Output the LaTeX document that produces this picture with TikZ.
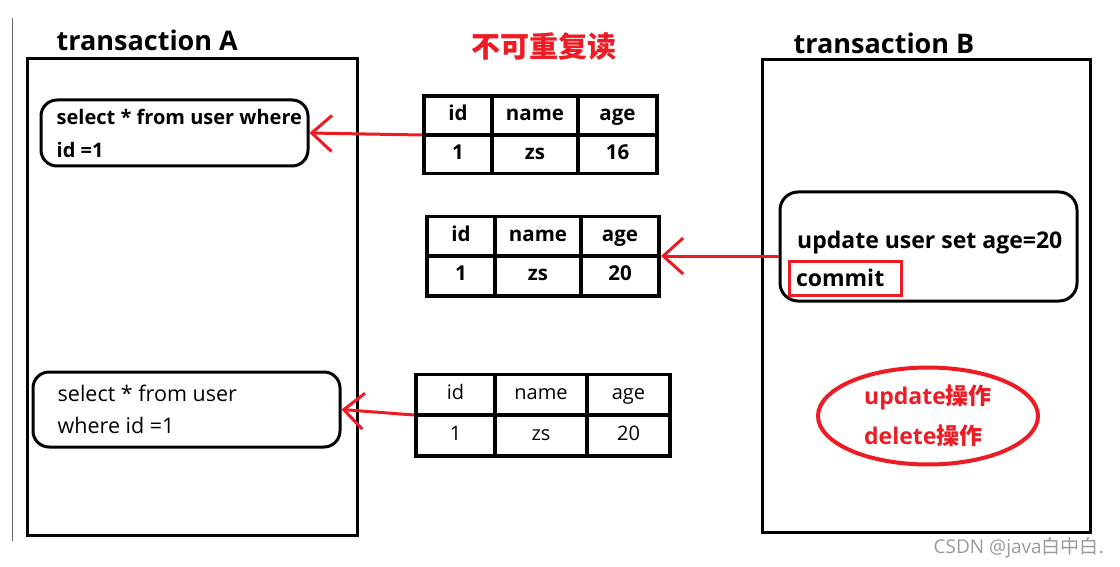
\documentclass[tikz,border=0pt]{standalone}
\usepackage{fontspec}
\setmainfont{Open Sans}
\newfontfamily\cjk{Noto Sans CJK SC}
\usetikzlibrary{arrows.meta, positioning, matrix, shapes.geometric}
\definecolor{markred}{HTML}{ED1C24}
\definecolor{wmgray}{HTML}{9A9A9A}

\begin{document}
\begin{tikzpicture}[x=1pt, y=-1pt,
  txbox/.style={draw, line width=3pt, inner sep=0pt},
  title/.style={font=\fontsize{27}{30}\selectfont\bfseries, inner sep=0pt},
  query/.style={draw, line width=3pt, rounded corners=16pt, inner sep=0pt},
  qtext/.style={font=\fontsize{20}{33}\selectfont\bfseries, align=left, inner sep=0pt},
  cell/.style={draw, line width=3.5pt, inner sep=0pt, text height=15pt, text depth=5pt,
    font=\fontsize{20.5}{24}\selectfont\bfseries},
  dbtable/.style={matrix of nodes, inner sep=0pt, column sep=-3.5pt, row sep=-3.5pt, nodes={cell}},
  colw/.style n args={3}{column 1/.style={nodes={minimum width=#1}},
    column 2/.style={nodes={minimum width=#2}}, column 3/.style={nodes={minimum width=#3}}},
  rowh/.style={nodes={minimum height=#1}},
  redarrow/.style={draw=markred, line width=3pt, -{Straight Barb[length=20pt, width=36pt]}},
  wmark/.style={font=\fontsize{19}{21}\selectfont, text=wmgray, inner sep=0pt},
]
  \useasboundingbox (0,0) rectangle (1120,567);
  \draw[line width=1pt, black!60] (12,18) -- (12,541);

  % transaction A
  \node[txbox, minimum width=330, minimum height=476] (boxA) at (192,297) {};
  \node[title, above right=7pt and 31pt of boxA.north west] (labA) {transaction A};
  \node[query, minimum width=267, minimum height=66] (sel1) at (174.5,133) {};
  \node[qtext, right=17pt of sel1.west] (q1) {select * from user where\\id =1};
  \node[query, minimum width=307, minimum height=75] (sel3) at (186.5,409.5) {};
  \node[qtext, font=\fontsize{21.5}{32}\selectfont, right=26pt of sel3.west] (q3) {select * from user\\where id =1};

  % transaction B
  \node[txbox, minimum width=328, minimum height=472] (boxB) at (926,296) {};
  \node[title, above right=5pt and 33pt of boxB.north west] (labB) {transaction B};
  \node[query, rounded corners=18pt, minimum width=297, minimum height=109] (upd) at (928.5,246.5) {};
  \node[qtext, font=\fontsize{23}{26}\selectfont\bfseries, anchor=base west] (u1) at (797,248) {update user set age=20};
  \node[draw=markred, line width=3pt, font=\fontsize{23}{26}\selectfont\bfseries, text width=98pt,
    inner xsep=7pt, minimum height=34, align=left] (commit) at (845,278) {commit};
  \node[ellipse, draw=markred, line width=4pt, minimum width=220, minimum height=96, align=left,
    text=markred, font=\fontsize{23}{40}\selectfont\bfseries] (ops) at (928,416)
    {update{\cjk 操作}\\delete{\cjk 操作}};

  % tables
  \node[text=markred, font=\fontsize{29}{32}\selectfont\bfseries\cjk] (head) at (544,47) {不可重复读};
  \matrix[dbtable, colw={68}{86}{79}, rowh=38.75] (tbl1) at (540.5,135) {
    id & name & age \\
    1  & zs   & 16  \\
  };
  \matrix[dbtable, colw={68}{86}{78}, rowh=39.75] (tbl2) at (543,256) {
    id & name & age \\
    1  & zs   & 20  \\
  };
  \matrix[dbtable, colw={79}{92}{83}, rowh=40.75, nodes={font=\fontsize{20}{24}\selectfont}] (tbl3) at (543,415) {
    id & name & age \\
    1  & zs   & 20  \\
  };

  \draw[redarrow] (tbl1.west) -- (sel1.east);
  \draw[redarrow] (upd.west |- tbl2.east) -- (tbl2.east);
  \draw[redarrow] (tbl3.west) -- (sel3.east);

  \node[wmark, anchor=base east] (csdn) at (1104,553) {CSDN @java{\cjk 白中白}.};
\end{tikzpicture}
\end{document}
